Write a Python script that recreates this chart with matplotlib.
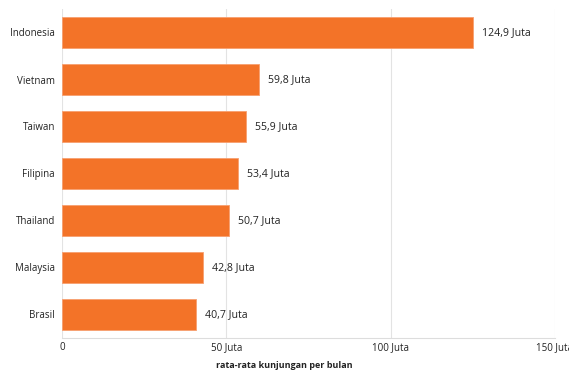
import matplotlib.pyplot as plt

countries = ['Indonesia', 'Vietnam', 'Taiwan', 'Filipina', 'Thailand', 'Malaysia', 'Brasil']
visits = [124.9, 59.8, 55.9, 53.4, 50.7, 42.8, 40.7]
value_labels = ['124,9 Juta', '59,8 Juta', '55,9 Juta', '53,4 Juta', '50,7 Juta', '42,8 Juta', '40,7 Juta']
xticks = [0, 50, 100, 150]
xtick_labels = ['0', '50 Juta', '100 Juta', '150 Juta']

plt.rcParams['font.family'] = ['Open Sans', 'DejaVu Sans']

fig = plt.figure(figsize=(5.69, 3.76), dpi=100)
ax = fig.add_axes([62 / 569, 38 / 376, 493 / 569, 329 / 376])

ax.barh(countries, visits, height=0.68, color='#f37328', edgecolor='#f7a070', linewidth=0.6, zorder=2)

for i, (v, lab) in enumerate(zip(visits, value_labels)):
    ax.annotate(lab, (v, i), xytext=(6.5, 0), textcoords='offset points',
                va='center', ha='left', fontsize=7.6, color='#222222')

ax.set_xlim(0, 150)
ax.set_ylim(6.5, -0.5)
ax.set_xticks(xticks)
ax.set_xticklabels(xtick_labels)
ax.grid(axis='x', color='#e3e3e3', linewidth=0.8, zorder=0)
ax.set_axisbelow(True)

for s in ['top', 'right', 'left']:
    ax.spines[s].set_visible(False)
ax.spines['bottom'].set_color('#dddddd')
ax.spines['bottom'].set_linewidth(0.8)

ax.tick_params(axis='both', length=0, labelsize=7, colors='#222222')
ax.tick_params(axis='y', pad=5)
ax.tick_params(axis='x', pad=3)

# axis title is centred on the whole figure, not the plot area
fig.text(0.5, 10 / 376, 'rata-rata kunjungan per bulan', ha='center', va='center',
         fontsize=6.5, fontweight='bold', color='#222222')

fig.savefig('out.png', dpi=100)
